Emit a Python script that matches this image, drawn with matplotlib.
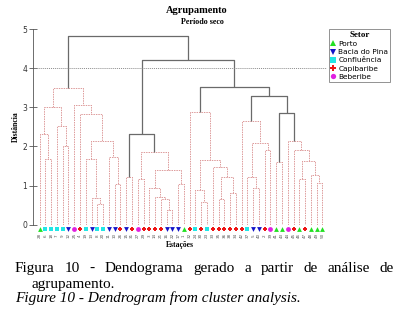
import matplotlib
matplotlib.use('Agg')
import matplotlib.pyplot as plt
from matplotlib.lines import Line2D

# setor de cada estação, na ordem do dendrograma (esquerda -> direita)
setores = ['Porto', 'Confluência', 'Confluência', 'Confluência', 'Confluência',
           'Bacia do Pina', 'Beberibe', 'Capibaribe', 'Confluência', 'Bacia do Pina',
           'Confluência', 'Confluência', 'Bacia do Pina', 'Bacia do Pina', 'Capibaribe',
           'Bacia do Pina', 'Capibaribe', 'Beberibe', 'Capibaribe', 'Capibaribe',
           'Capibaribe', 'Capibaribe', 'Bacia do Pina', 'Bacia do Pina', 'Bacia do Pina',
           'Porto', 'Capibaribe', 'Confluência', 'Capibaribe', 'Confluência',
           'Capibaribe', 'Capibaribe', 'Capibaribe', 'Capibaribe', 'Capibaribe',
           'Capibaribe', 'Confluência', 'Bacia do Pina', 'Bacia do Pina', 'Capibaribe',
           'Beberibe', 'Porto', 'Porto', 'Beberibe', 'Capibaribe',
           'Porto', 'Capibaribe', 'Porto', 'Porto', 'Porto']

# rotulos das estacoes (ilegiveis no original)
estacoes = ['28', '6', '18', '7', '9', '12', '25', '4', '19', '13',
            '8', '20', '11', '10', '26', '15', '31', '27', '29', '3',
            '14', '21', '16', '22', '17', '1', '32', '24', '30', '23',
            '33', '35', '36', '38', '34', '42', '37', '5', '40', '2',
            '39', '41', '43', '44', '45', '46', '47', '48', '49', '50']

# fusoes: (filho a, filho b, distancia); folhas 0..49, fusao k -> 50+k
fus_a = [1, 0, 4, 3, 51, 10, 9, 8, 13, 12, 57, 7, 6, 54,
         15, 17, 22, 21, 20, 19, 24, 69, 65, 64,
         28, 27, 31, 33, 76, 30, 75, 26,
         37, 36, 39, 83, 35,
         41, 48, 47, 45, 90, 44, 43, 87, 86, 81, 73, 63]
fus_b = [2, 50, 5, 52, 53, 11, 55, 56, 14, 58, 59, 60, 61, 62,
         16, 18, 23, 66, 67, 68, 25, 70, 71, 72,
         29, 74, 32, 34, 77, 78, 79, 80,
         38, 82, 40, 84, 85,
         42, 49, 88, 46, 89, 91, 92, 93, 94, 95, 96, 97]
fus_h = [1.67, 2.31, 2.02, 2.51, 3.00, 0.52, 0.67, 1.67, 1.05, 1.74, 2.14, 2.82, 3.07, 3.50,
         1.21, 1.16, 0.37, 0.66, 0.71, 0.93, 1.03, 1.41, 1.86, 2.33,
         0.59, 0.89, 0.66, 0.82, 1.22, 1.48, 1.65, 2.89,
         0.94, 1.22, 1.92, 2.08, 2.66,
         1.61, 1.07, 1.28, 1.17, 1.62, 1.92, 2.15, 2.85, 3.30, 3.53, 4.22, 4.83]
# fusoes desenhadas em cinza escuro
escuras = [73, 94, 95, 96, 97, 98]

cores = {'Porto': '#22e022', 'Bacia do Pina': '#1414c8', 'Confluência': '#22e6e6',
         'Capibaribe': '#ee1414', 'Beberibe': '#e020e0'}
marcadores = {'Porto': '^', 'Bacia do Pina': 'v', 'Confluência': 's',
              'Capibaribe': 'P', 'Beberibe': 'o'}

n = len(setores)
xs = {i: i + 1 for i in range(n)}
hs = {i: 0.0 for i in range(n)}

fig = plt.figure(figsize=(4.08, 3.18), dpi=100)
ax = fig.add_axes([33.3 / 408, 93.3 / 318, (327 - 33.3) / 408, (289 - 93.3) / 318])

for k in range(len(fus_h)):
    a, b, h = fus_a[k], fus_b[k], fus_h[k]
    node = n + k
    xs[node] = (xs[a] + xs[b]) / 2
    hs[node] = h
    if node in escuras:
        ax.plot([xs[a], xs[a], xs[b], xs[b]], [hs[a], h, h, hs[b]],
                color='#6a6a6a', lw=0.9, solid_capstyle='butt')
    else:
        ax.plot([xs[a], xs[a], xs[b], xs[b]], [hs[a], h, h, hs[b]],
                color='#dd9a9a', lw=0.7, ls=(0, (1.5, 1)))

ax.axhline(4, color='#8c8c8c', lw=0.7, ls=(0, (1, 1)))

for s in cores:
    px = [xs[i] for i in range(n) if setores[i] == s]
    ax.scatter(px, [-0.1] * len(px), marker=marcadores[s], color=cores[s],
               s=12, linewidths=0, clip_on=False, zorder=5)

for i in range(n):
    ax.text(xs[i], -0.27, estacoes[i], rotation=90, ha='center', va='center',
            fontsize=3, color='#555555', clip_on=False)

ax.set_xlim(-0.1, 50.8)
ax.set_ylim(0, 5)
ax.set_xticks([])
ax.set_yticks([0, 1, 2, 3, 4, 5])
for sp in ['top', 'right', 'bottom']:
    ax.spines[sp].set_visible(False)
ax.spines['left'].set_color('#555555')
ax.spines['left'].set_linewidth(0.6)
ax.tick_params(axis='y', direction='inout', length=6, width=0.6, color='#555555',
               labelsize=5.5, labelcolor='#333333', pad=1.5)
ax.set_ylabel('Distância', fontsize=5.5, fontweight='bold', family='Liberation Serif')
ax.yaxis.set_label_coords(-0.045, 0.5)
ax.text(0.5, -0.104, 'Estações', transform=ax.transAxes, ha='center', va='center',
        fontsize=5.5, fontweight='bold', family='Liberation Serif')

fig.text(197 / 408, 1 - 10.5 / 318, 'Agrupamento', ha='center', va='center',
         fontsize=7.5, fontweight='bold', family='Liberation Serif')
fig.text(202 / 408, 1 - 22 / 318, 'Período seco', ha='center', va='center',
         fontsize=5.8, fontweight='bold', family='Liberation Serif')

handles = [Line2D([], [], ls='', marker=marcadores[s], color=cores[s], ms=3.8,
                  markeredgewidth=0) for s in cores]
leg = fig.legend(handles, list(cores), loc='upper left',
                 bbox_to_anchor=(329 / 408, 1 - 29 / 318), fontsize=5.3,
                 title='Setor', title_fontproperties={'family': 'Liberation Serif',
                                                      'weight': 'bold', 'size': 6.5},
                 frameon=True, fancybox=False, edgecolor='#777777',
                 handlelength=0.6, handletextpad=0.4, labelspacing=0.28,
                 borderpad=0.25, borderaxespad=0)
leg.get_frame().set_linewidth(0.7)

# legenda da figura (primeira linha justificada)
r = fig.canvas.get_renderer()
palavras = 'Figura 10 - Dendograma gerado a partir de análise de'.split()
objs = [fig.text(0, 1 - 272 / 318, p, fontsize=11, family='Liberation Serif',
                 va='baseline') for p in palavras]
larg = [o.get_window_extent(renderer=r).width for o in objs]
esp = (394 - 15 - sum(larg)) / (len(palavras) - 1)
x = 15
for o, w in zip(objs, larg):
    o.set_x(x / 408)
    x += w + esp
fig.text(32 / 408, 1 - 288 / 318, 'agrupamento.', fontsize=11,
         family='Liberation Serif', va='baseline')
fig.text(15 / 408, 1 - 302 / 318, 'Figure 10 - Dendrogram from cluster analysis.',
         fontsize=11, family='Liberation Serif', style='italic', va='baseline')

fig.savefig('out.png', dpi=100)
